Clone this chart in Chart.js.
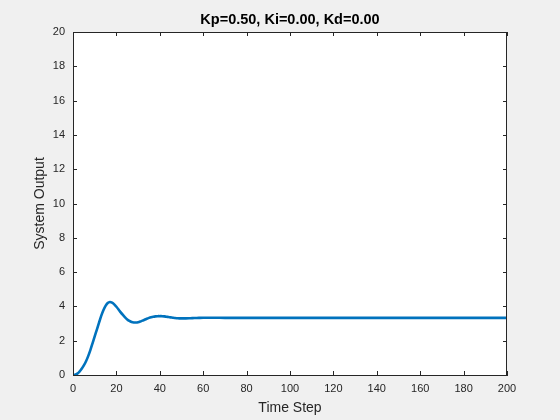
<!DOCTYPE html>
<html>
<head>
<meta charset="utf-8">
<script src="https://cdn.jsdelivr.net/npm/chart.js@4/dist/chart.umd.min.js"></script>
<style>
  body { margin: 0; background: #f0f0f0; }
  canvas { display: block; }
</style>
</head>
<body>
<canvas id="chart" width="560" height="420"></canvas>
<script>
// step response
var timeSteps = [0,1,2,3,4,5,6,7,8,9,10,11,12,13,14,15,16,17,18,19,20,21,22,23,24,25,26,27,28,29,30,
  31,32,33,34,35,36,37,38,39,40,41,42,43,44,45,46,47,48,49,50,52,54,56,58,60,65,70,80,100,120,140,160,180,200];
var outputValues = [0,0.02,0.08,0.2,0.36,0.56,0.8,1.1,1.45,1.85,2.25,2.65,3.05,3.45,3.78,4.03,4.2,4.26,4.22,4.12,3.98,
  3.82,3.65,3.5,3.36,3.24,3.15,3.09,3.06,3.06,3.08,3.12,3.17,3.22,3.28,3.33,3.37,3.4,3.42,3.43,3.43,
  3.43,3.42,3.4,3.38,3.36,3.34,3.32,3.31,3.3,3.3,3.3,3.31,3.32,3.33,3.34,3.34,3.33,3.33,3.33,3.33,3.33,3.33,3.33,3.33];

var xTickValues = [0,20,40,60,80,100,120,140,160,180,200];
var yTickValues = [0,2,4,6,8,10,12,14,16,18,20];

var titleText = 'Kp=0.50, Ki=0.00, Kd=0.00';
var axisColor = '#262626';
var fontFamily = '"Liberation Sans", Arial, Helvetica, sans-serif';

var points = [];
for (var i = 0; i < timeSteps.length; i++) {
  points.push({ x: timeSteps[i], y: outputValues[i] });
}

// box on top/right, inward ticks and the bold title, matlab style
var boxPlugin = {
  id: 'box',
  afterDraw: function(chart) {
    var ctx = chart.ctx;
    var a = chart.chartArea;
    var xs = chart.scales.x, ys = chart.scales.y;
    ctx.save();
    ctx.strokeStyle = axisColor;
    ctx.lineWidth = 1;
    ctx.beginPath();
    ctx.moveTo(a.left, a.top + 0.5);
    ctx.lineTo(a.right, a.top + 0.5);
    ctx.moveTo(a.right - 0.5, a.top);
    ctx.lineTo(a.right - 0.5, a.bottom);
    xs.ticks.forEach(function(t) {
      var px = Math.round(xs.getPixelForValue(t.value)) + 0.5;
      ctx.moveTo(px, a.bottom);
      ctx.lineTo(px, a.bottom - 4);
      ctx.moveTo(px, a.top);
      ctx.lineTo(px, a.top + 4);
    });
    ys.ticks.forEach(function(t) {
      var py = Math.round(ys.getPixelForValue(t.value)) + 0.5;
      ctx.moveTo(a.left, py);
      ctx.lineTo(a.left + 4, py);
      ctx.moveTo(a.right, py);
      ctx.lineTo(a.right - 4, py);
    });
    ctx.stroke();

    ctx.fillStyle = '#000';
    ctx.font = 'bold 14.5px ' + fontFamily;
    ctx.textAlign = 'center';
    ctx.textBaseline = 'middle';
    ctx.fillText(titleText, (a.left + a.right) / 2, 20);
    ctx.restore();
  }
};

var bgPlugin = {
  id: 'bg',
  beforeDraw: function(chart) {
    var ctx = chart.ctx;
    var a = chart.chartArea;
    ctx.save();
    ctx.fillStyle = '#f0f0f0';
    ctx.fillRect(0, 0, chart.width, chart.height);
    ctx.fillStyle = '#ffffff';
    ctx.fillRect(a.left, a.top, a.right - a.left, a.bottom - a.top);
    ctx.restore();
  }
};

var ctx = document.getElementById('chart').getContext('2d');
var chart = new Chart(ctx, {
  type: 'line',
  data: {
    datasets: [{
      data: points,
      borderColor: '#0072BD',
      borderWidth: 2.6,
      pointRadius: 0,
      fill: false,
      tension: 0.2
    }]
  },
  options: {
    responsive: false,
    animation: false,
    devicePixelRatio: 1,
    layout: { padding: { top: 32, right: 53, left: 0, bottom: 0 } },
    plugins: {
      legend: { display: false },
      title: { display: false },
      tooltip: { enabled: false }
    },
    scales: {
      x: {
        type: 'linear',
        min: 0,
        max: 200,
        afterBuildTicks: function(s) { s.ticks = xTickValues.map(function(v) { return { value: v }; }); },
        afterFit: function(s) { s.height = 45; },
        grid: { display: false, drawTicks: false },
        border: { display: true, color: axisColor, width: 1 },
        ticks: { color: axisColor, font: { family: fontFamily, size: 11 }, padding: 7, maxRotation: 0 },
        title: { display: true, text: 'Time Step', color: axisColor,
                 font: { family: fontFamily, size: 14 }, padding: { top: 0, bottom: 3.6 } }
      },
      y: {
        type: 'linear',
        min: 0,
        max: 20,
        afterBuildTicks: function(s) { s.ticks = yTickValues.map(function(v) { return { value: v }; }); },
        afterFit: function(s) { s.width = 73; },
        grid: { display: false, drawTicks: false },
        border: { display: true, color: axisColor, width: 1 },
        ticks: { color: axisColor, font: { family: fontFamily, size: 11 }, padding: 8 },
        title: { display: true, text: 'System Output', color: axisColor,
                 font: { family: fontFamily, size: 14 }, padding: { top: 31.6, bottom: 0 } }
      }
    }
  },
  plugins: [bgPlugin, boxPlugin]
});
</script>
</body>
</html>
